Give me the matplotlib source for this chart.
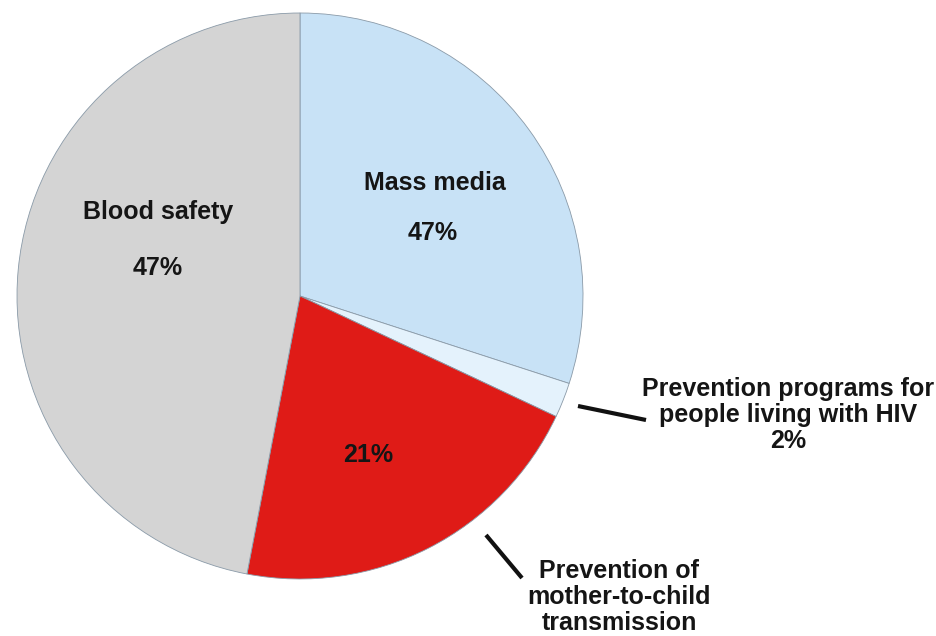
import matplotlib.pyplot as plt

# slice sizes (degrees -> percent); labels keep the printed text
categories = ["Mass media", "Prevention programs for\npeople living with HIV",
              "Prevention of\nmother-to-child\ntransmission", "Blood safety"]
shares = [30, 2, 21, 47]
printed = ["47%", "2%", "21%", "47%"]
colors = ["#c8e2f6", "#e4f2fc", "#df1b17", "#d4d4d4"]

plt.rcParams['font.family'] = ['Liberation Sans', 'DejaVu Sans']

fig = plt.figure(figsize=(9.36, 6.36), dpi=100)
ax = fig.add_axes([0, 0, 1, 1])

cx, cy, r = 300, 296, 283
wedges, _ = ax.pie(shares, colors=colors, startangle=-90, counterclock=True,
                   center=(cx, cy), radius=r, frame=True,
                   wedgeprops=dict(edgecolor="#8a9aa8", linewidth=0.6))
ax.set_xlim(0, 936)
ax.set_ylim(636, 0)
ax.set_aspect('equal')
ax.axis('off')

fs = 18
kw = dict(fontsize=fs, fontweight='bold', color='#151515', ha='center', va='center')

# labels inside the slices
ax.text(435, 183, categories[0], **kw)
ax.text(433, 233, printed[0], **kw)
ax.text(158, 212, categories[3], **kw)
ax.text(158, 268, printed[3], **kw)
ax.text(368, 455, printed[2], **kw)

# outside labels with leader lines
ax.plot([578, 646], [406, 420], color='#111111', lw=3, solid_capstyle='butt')
ax.text(788, 415, categories[1] + "\n" + printed[1], linespacing=1.12, **kw)
ax.plot([486, 522], [535, 578], color='#111111', lw=3, solid_capstyle='butt')
ax.text(619, 597, categories[2], linespacing=1.12, **kw)

fig.savefig("out.png", dpi=100)
